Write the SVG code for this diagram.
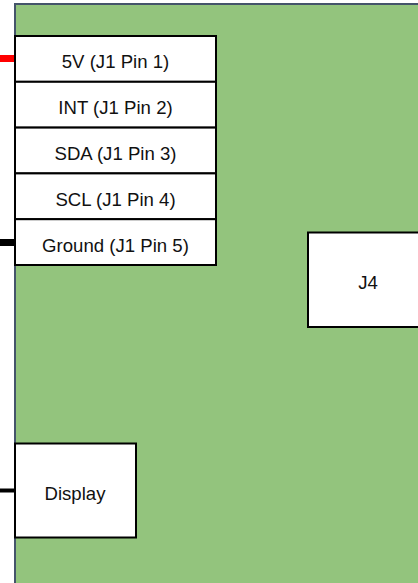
<svg xmlns="http://www.w3.org/2000/svg" width="418" height="583" viewBox="0 0 418 583">
<style>
.box{fill:#fff;stroke:#000;stroke-width:2}
.t{font-family:"Liberation Sans",Arial,sans-serif;font-size:18.6px;fill:#111;text-anchor:middle}
</style>
<rect width="418" height="583" fill="#fff"/>
<g id="board">
<rect x="15" y="4" width="420" height="600" fill="#93C47D" stroke="#44546A" stroke-width="2"/>
</g>
<g id="connectors">
<line x1="0" y1="58.5" x2="15" y2="58.5" stroke="#FF0000" stroke-width="7"/>
<line x1="0" y1="242.5" x2="15" y2="242.5" stroke="#000" stroke-width="7"/>
<line x1="0" y1="490.5" x2="15" y2="490.5" stroke="#000" stroke-width="4"/>
</g>
<g id="pin1"><rect class="box" x="15" y="36" width="201" height="45.8"/><text class="t" x="115.5" y="68.4">5V (J1 Pin 1)</text></g>
<g id="pin2"><rect class="box" x="15" y="81.8" width="201" height="45.8"/><text class="t" x="115.5" y="114.2">INT (J1 Pin 2)</text></g>
<g id="pin3"><rect class="box" x="15" y="127.6" width="201" height="45.8"/><text class="t" x="115.5" y="160">SDA (J1 Pin 3)</text></g>
<g id="pin4"><rect class="box" x="15" y="173.4" width="201" height="45.8"/><text class="t" x="115.5" y="205.8">SCL (J1 Pin 4)</text></g>
<g id="pin5"><rect class="box" x="15" y="219.2" width="201" height="45.8"/><text class="t" x="115.5" y="252">Ground (J1 Pin 5)</text></g>
<g id="j4"><rect class="box" x="308" y="232.5" width="120" height="94.5"/><text class="t" x="368" y="289">J4</text></g>
<g id="display"><rect class="box" x="15" y="443.5" width="121" height="94"/><text class="t" x="75" y="500">Display</text></g>
</svg>
